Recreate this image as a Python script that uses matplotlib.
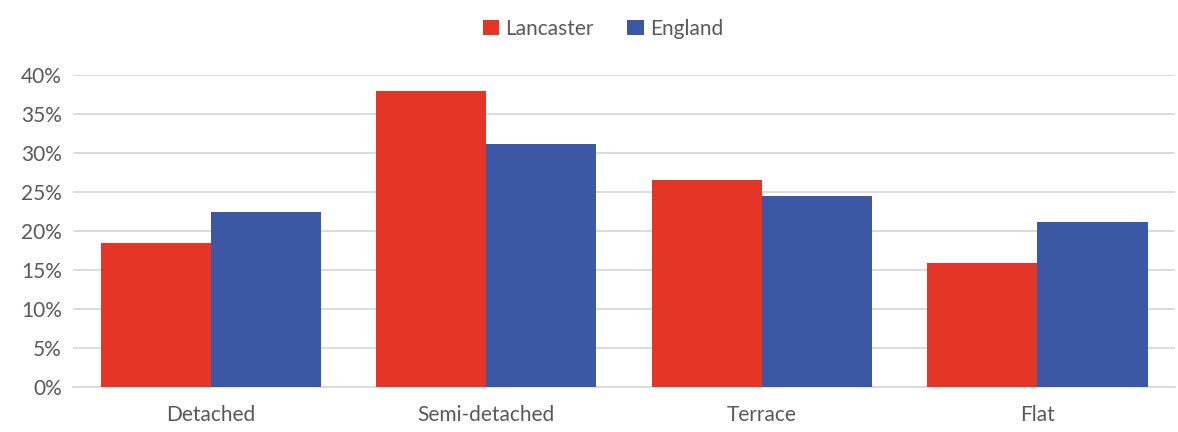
import numpy as np
import matplotlib
matplotlib.use("Agg")
import matplotlib.pyplot as plt
from matplotlib.ticker import PercentFormatter

# dwelling type shares
categories = ["Detached", "Semi-detached", "Terrace", "Flat"]
lancaster = [0.185, 0.379, 0.265, 0.159]
england = [0.224, 0.312, 0.245, 0.212]

red = "#E43526"
blue = "#3C57A3"
grey = "#595959"

plt.rcParams["font.family"] = ["Lato", "DejaVu Sans"]

fig = plt.figure(figsize=(11.78, 4.32), dpi=100)
ax = fig.add_axes([0.062, 0.104, 0.9355, 0.7224])

x = np.arange(len(categories))
w = 0.4
ax.bar(x - w / 2, lancaster, w, color=red, label="Lancaster", zorder=3)
ax.bar(x + w / 2, england, w, color=blue, label="England", zorder=3)

ax.set_xlim(-0.5, len(categories) - 0.5)
ax.set_ylim(0, 0.4)
ax.set_yticks(np.arange(0, 0.41, 0.05))
ax.yaxis.set_major_formatter(PercentFormatter(1.0, decimals=0))
ax.set_xticks(x)
ax.set_xticklabels(categories)

ax.grid(axis="y", color="#D9D9D9", linewidth=1.3, zorder=0)
for s in ["top", "right", "left"]:
    ax.spines[s].set_visible(False)
ax.spines["bottom"].set_color("#D9D9D9")
ax.spines["bottom"].set_linewidth(1.3)
ax.tick_params(length=0, labelsize=15, colors=grey, pad=8)
ax.tick_params(axis="x", pad=13)

fig.legend(loc="upper center", bbox_to_anchor=(0.512, 1.0), ncol=2, frameon=False,
           fontsize=15, labelcolor=grey, handlelength=0.8, handleheight=0.8,
           handletextpad=0.3, columnspacing=1.6)

plt.savefig("out.png", dpi=100)
